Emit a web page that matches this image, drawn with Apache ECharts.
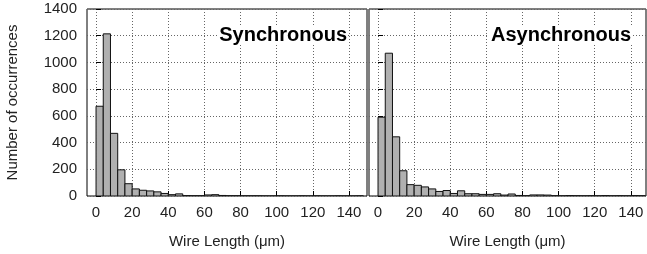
<!DOCTYPE html>
<html><head><meta charset="utf-8">
<script src="https://cdn.jsdelivr.net/npm/echarts@6/dist/echarts.min.js"></script>
<style>html,body{margin:0;padding:0;background:#fff}#c{width:647px;height:254px}</style>
</head><body><div id="c"></div>
<script>
const binWidth = 4;
const syncCounts = [672, 1214, 469, 196, 92, 53, 43, 38, 31, 19, 10, 16, 3, 2, 2, 8, 10, 4, 2, 2, 1, 1, 1, 0, 0, 1, 0, 0, 1, 0, 1, 0, 0, 1, 0, 0, 1];
const asyncCounts = [590, 1069, 443, 189, 85, 80, 68, 53, 34, 41, 19, 39, 17, 17, 12, 12, 17, 7, 15, 4, 2, 8, 8, 7, 2, 1, 3, 2, 1, 2, 1, 3, 1, 2, 1, 3, 2];
const xTicks = [0, 20, 40, 60, 80, 100, 120, 140];
const yTicks = [0, 200, 400, 600, 800, 1000, 1200, 1400];
const panelTitles = ['Synchronous', 'Asynchronous'];
const xName = 'Wire Length (\u03bcm)';
const yName = 'Number of occurrences';

function toBins(arr){ return arr.map((v,i)=>[i*binWidth, (i+1)*binWidth, v]); }

const FONT = 'Liberation Sans, Arial, Helvetica, sans-serif';
const chart = echarts.init(document.getElementById('c'), null, {renderer:'canvas'});

function renderBar(params, api){
  const p0 = api.coord([api.value(0), 0]);
  const p1 = api.coord([api.value(1), api.value(2)]);
  return {type:'rect', shape:{x:p0[0], y:p1[1], width:p1[0]-p0[0], height:p0[1]-p1[1]},
    style:{fill:'#b0b0b0', stroke:'#111', lineWidth:1}};
}

const grids = [
  {left:87, top:9, width:280, height:193},
  {left:369, top:9, width:277, height:193}
].map(g=>Object.assign(g,{show:true, borderColor:'#000', borderWidth:1, backgroundColor:'transparent', containLabel:false}));

const gridLineStyle = {color:'#666', type:[1,2], width:1};

function xAxis(i, max){
  return {type:'value', gridIndex:i, min:-5, max:max,
    name:xName, nameLocation:'middle', nameGap:38,
    nameTextStyle:{fontFamily:FONT, fontSize:15, color:'#222'},
    axisLine:{show:false},
    axisTick:{show:true, inside:true, length:5, customValues:xTicks, lineStyle:{color:'#000', width:1}},
    axisLabel:{show:true, customValues:xTicks, margin:9, fontFamily:FONT, fontSize:15, color:'#222'},
    splitLine:{show:true, lineStyle:gridLineStyle}
  };
}
function yAxis(i, showLabels){
  return {type:'value', gridIndex:i, min:0, max:1400, interval:200,
    name: showLabels ? yName : '', nameLocation:'middle', nameGap:67, nameRotate:90,
    nameTextStyle:{fontFamily:FONT, fontSize:15, color:'#222'},
    axisLine:{show:false},
    axisTick:{show:true, inside:true, length:5, lineStyle:{color:'#000', width:1}},
    axisLabel:{show:showLabels, margin:10, fontFamily:FONT, fontSize:15, color:'#222',
      customValues: yTicks, formatter:(v)=>String(v)},
    splitLine:{show:true, lineStyle:gridLineStyle}
  };
}

chart.setOption({
  animation:false,
  grid: grids,
  xAxis:[xAxis(0,150), xAxis(1,148.4)],
  yAxis:[yAxis(0,true), yAxis(1,false)],
  series:[
    {type:'custom', xAxisIndex:0, yAxisIndex:0, renderItem:renderBar, data:toBins(syncCounts), clip:true},
    {type:'custom', xAxisIndex:1, yAxisIndex:1, renderItem:renderBar, data:toBins(asyncCounts), clip:true}
  ],
  graphic:[
    {type:'text', x:348, y:45, z:100, style:{text:panelTitles[0], align:'right', verticalAlign:'bottom',
      font:'bold 20px '+FONT, fill:'#000', backgroundColor:'#fff', padding:[0,1,0,2]}},
    {type:'text', x:632, y:45, z:100, style:{text:panelTitles[1], align:'right', verticalAlign:'bottom',
      font:'bold 20px '+FONT, fill:'#000', backgroundColor:'#fff', padding:[0,1,0,2]}}
  ]
});
</script></body></html>
